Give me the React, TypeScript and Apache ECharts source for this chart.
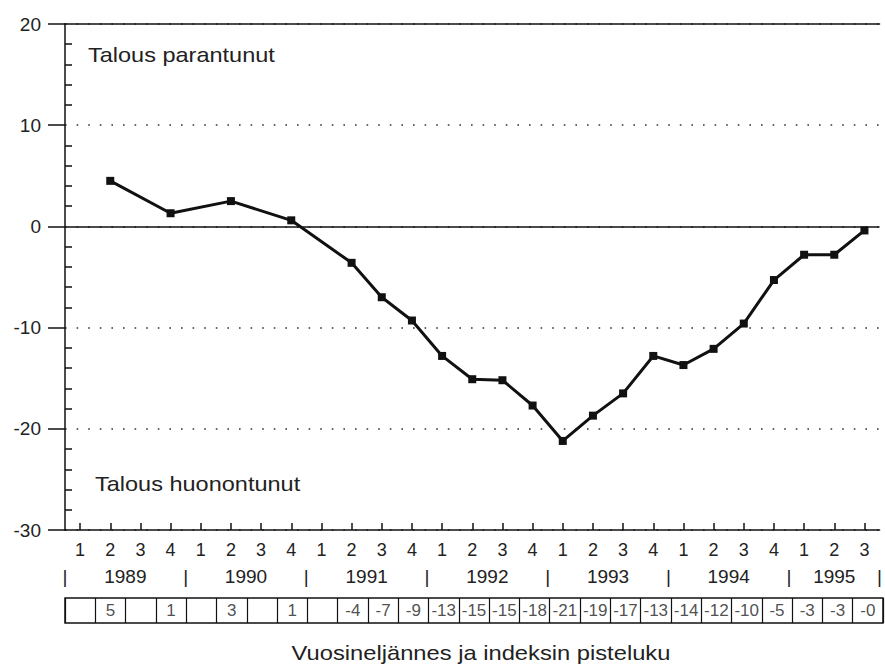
import React, { useEffect, useRef } from "react";
import * as echarts from "echarts";

const FONT = '"Liberation Sans", Arial, Helvetica, sans-serif';

const years = ["1989", "1990", "1991", "1992", "1993", "1994", "1995"];
const quarterNames = ["1", "2", "3", "4"];
const categories = years
  .flatMap((y) => quarterNames.map((q) => `${y}/${q}`))
  .slice(0, 27);

const values: (number | null)[] = [
  null, 4.5, null, 1.3, null, 2.5, null, 0.6,
  null, -3.6, -7.0, -9.3, -12.8, -15.1, -15.2, -17.7,
  -21.2, -18.7, -16.5, -12.8, -13.7, -12.1, -9.6, -5.3,
  -2.8, -2.8, -0.4,
];

const tableLabels = [
  "", "5", "", "1", "", "3", "", "1",
  "", "-4", "-7", "-9", "-13", "-15", "-15", "-18",
  "-21", "-19", "-17", "-13", "-14", "-12", "-10", "-5",
  "-3", "-3", "-0",
];

// year label centres and separators, in quarter units along the axis
const yearCenters = [2, 6, 10, 14, 18, 22, 25.5];
const yearSeparators = [0, 4, 8, 12, 16, 20, 24, 27];

const yTicks = { min: -30, max: 20, interval: 10 };

const upperNote = "Talous parantunut";
const lowerNote = "Talous huonontunut";
const axisTitle = "Vuosineljännes ja indeksin pisteluku";

export default function App() {
  const ref = useRef<HTMLDivElement>(null);

  useEffect(() => {
    if (!ref.current) return;
    const chart = echarts.init(ref.current, undefined, { renderer: "svg" });
    const black = "#111";
    const yearFormatter = (v: number) => {
      const yi = yearCenters.findIndex((c) => Math.abs(c - v) < 0.01);
      if (yi >= 0) return years[yi];
      if (yearSeparators.some((s) => Math.abs(s - v) < 0.01)) return "|";
      return "";
    };
    const option: any = {
      animation: false,
      textStyle: { fontFamily: FONT },
      grid: [
        { left: 65, top: 24, width: 818, height: 506 },
        {
          left: 65,
          top: 598,
          width: 818,
          height: 25,
          show: true,
          borderColor: black,
          borderWidth: 1.5,
          backgroundColor: "transparent",
        },
      ],
      xAxis: [
        {
          type: "category",
          gridIndex: 0,
          data: categories,
          position: "bottom",
          boundaryGap: true,
          axisLine: { show: true, onZero: false, lineStyle: { color: black, width: 1.5 } },
          axisTick: {
            show: true,
            inside: true,
            length: 7,
            alignWithLabel: true,
            interval: 0,
            lineStyle: { color: black, width: 1.5 },
          },
          axisLabel: {
            interval: 0,
            margin: 11,
            fontSize: 18,
            color: "#222",
            fontFamily: FONT,
            formatter: (v: string) => v.split("/")[1],
          },
          splitLine: { show: false },
        },
        {
          type: "value",
          gridIndex: 0,
          position: "bottom",
          offset: 26,
          min: 0,
          max: 27,
          interval: 0.5,
          axisLine: { show: false, onZero: false },
          axisTick: { show: false },
          splitLine: { show: false },
          axisLabel: {
            margin: 11,
            fontSize: 19,
            color: "#222",
            fontFamily: FONT,
            showMinLabel: true,
            showMaxLabel: true,
            formatter: yearFormatter,
          },
        },
        {
          type: "category",
          gridIndex: 0,
          data: categories,
          position: "top",
          axisLine: { show: true, onZero: false, lineStyle: { color: black, width: 1.5 } },
          axisTick: { show: false },
          axisLabel: { show: false },
          splitLine: { show: false },
        },
        {
          type: "category",
          gridIndex: 1,
          data: categories,
          axisLine: { show: false, onZero: false },
          axisTick: { show: false },
          axisLabel: { show: false },
          splitLine: {
            show: true,
            interval: 0,
            lineStyle: { color: black, width: 1.2 },
          },
        },
      ],
      yAxis: [
        {
          type: "value",
          gridIndex: 0,
          position: "left",
          ...yTicks,
          axisLine: { show: true, onZero: false, lineStyle: { color: black, width: 1.5 } },
          axisTick: { show: true, length: 17, lineStyle: { color: black, width: 1.5 } },
          axisLabel: { margin: 24, fontSize: 19, color: "#222", fontFamily: FONT },
          splitLine: {
            show: true,
            lineStyle: { color: "#333", width: 1.6, type: [1.6, 10] },
          },
        },
        {
          type: "value",
          gridIndex: 0,
          position: "left",
          offset: 0,
          ...yTicks,
          axisLine: { show: false, onZero: false },
          axisTick: { show: false, inside: true },
          minorTick: {
            show: true,
            splitNumber: 5,
            length: 7,
            lineStyle: { color: black, width: 1.5 },
          },
          axisLabel: { show: false },
          splitLine: { show: false },
        },
        { type: "value", gridIndex: 1, min: 0, max: 1, show: false },
      ],
      series: [
        {
          type: "line",
          xAxisIndex: 0,
          yAxisIndex: 0,
          data: values,
          connectNulls: true,
          symbol: "rect",
          symbolSize: 8,
          showAllSymbol: true,
          lineStyle: { color: black, width: 3 },
          itemStyle: { color: black },
          markLine: {
            silent: true,
            symbol: ["none", "none"],
            label: { show: false },
            lineStyle: { color: black, width: 1.5, type: "solid" },
            data: [{ yAxis: 0 }],
          },
        },
        {
          type: "scatter",
          xAxisIndex: 3,
          yAxisIndex: 2,
          symbolSize: 1,
          itemStyle: { color: "rgba(0,0,0,0)" },
          data: tableLabels.map((_, i) => [i, 0.5]),
          label: {
            show: true,
            position: "inside",
            fontSize: 17,
            color: "#222",
            fontFamily: FONT,
            formatter: (p: any) => tableLabels[p.dataIndex],
          },
        },
      ],
      graphic: [
        {
          type: "text",
          x: 88,
          y: 55,
          scaleX: 1.12,
          style: {
            text: upperNote,
            fontSize: 21,
            fontFamily: FONT,
            fill: "#222",
            verticalAlign: "middle",
          },
        },
        {
          type: "text",
          x: 95,
          y: 484,
          scaleX: 1.12,
          style: {
            text: lowerNote,
            fontSize: 21,
            fontFamily: FONT,
            fill: "#222",
            verticalAlign: "middle",
          },
        },
        {
          type: "text",
          x: 481,
          y: 653,
          scaleX: 1.13,
          style: {
            text: axisTitle,
            fontSize: 21,
            fontFamily: FONT,
            fill: "#222",
            align: "center",
            verticalAlign: "middle",
          },
        },
      ],
    };
    chart.setOption(option);
    return () => chart.dispose();
  }, []);

  return (
    <div
      ref={ref}
      style={{ position: "absolute", left: 0, top: 0, width: 885, height: 668, background: "#fff" }}
    />
  );
}
